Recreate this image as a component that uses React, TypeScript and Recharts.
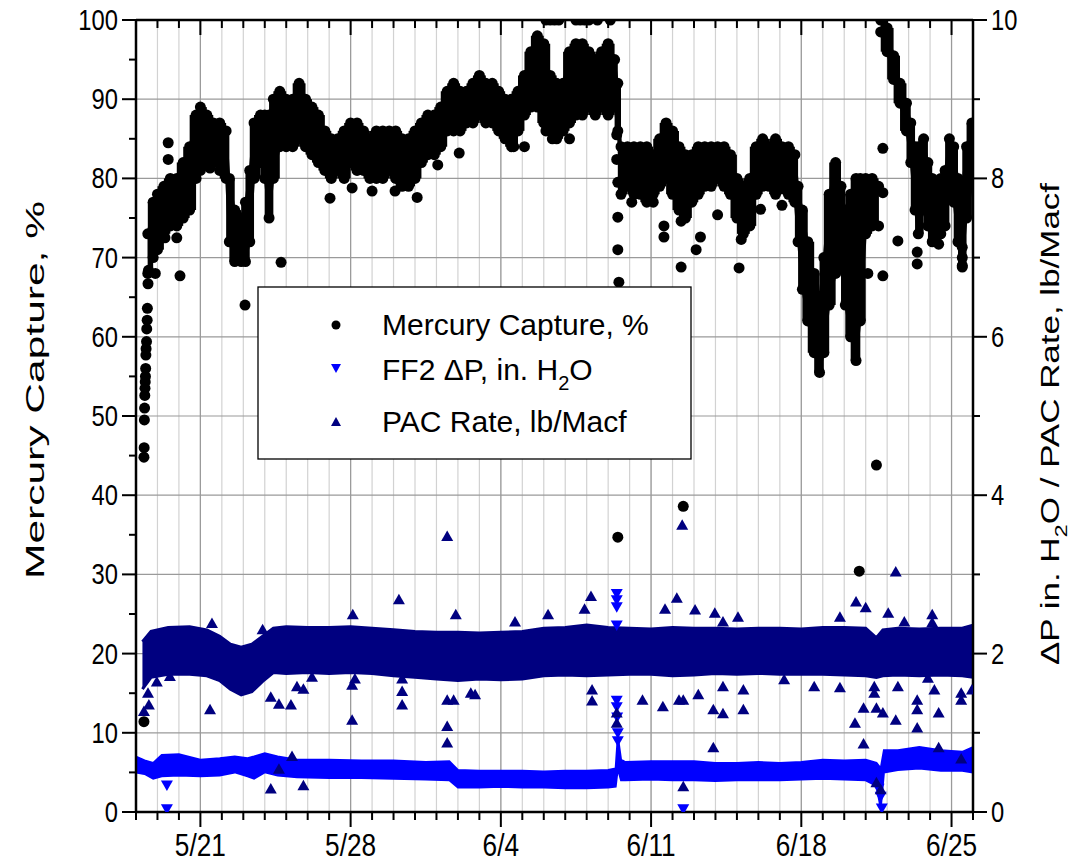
import { Area, CartesianGrid, ComposedChart, ReferenceArea, Scatter, XAxis, YAxis } from "recharts";

// time axis: days counted from 5/18
const dayTicks = Array.from({ length: 40 }, (_, i) => i);
const dateLabelDays = [3, 10, 17, 24, 31, 38];
const dateLabels = ["5/21", "5/28", "6/4", "6/11", "6/18", "6/25"];
const leftTicks = Array.from({ length: 21 }, (_, i) => i * 5);
const rightTicks = Array.from({ length: 11 }, (_, i) => i);

// mercury capture, dense band (lo / hi envelope of the dots)
const hgT = [0.55, 0.8, 1.0, 1.3, 1.6, 1.9, 2.2, 2.5, 2.8, 3.0, 3.3, 3.6, 3.9, 4.2, 4.35, 4.6, 4.9, 5.1, 5.3, 5.5, 5.8, 6.0, 6.2, 6.4, 6.7, 7.0, 7.3, 7.6, 7.9, 8.2, 8.5, 8.8, 9.1, 9.4, 9.7, 10.0, 10.3, 10.6, 10.9, 11.2, 11.5, 11.8, 12.1, 12.4, 12.7, 13.0, 13.3, 13.6, 13.9, 14.2, 14.5, 14.8, 15.1, 15.4, 15.7, 16.0, 16.3, 16.6, 16.9, 17.2, 17.5, 17.8, 18.1, 18.4, 18.7, 19.0, 19.3, 19.6, 19.9, 20.2, 20.5, 20.8, 21.1, 21.4, 21.7, 22.0, 22.3, 22.45, 22.6, 22.9, 23.2, 23.5, 23.8, 24.1, 24.4, 24.7, 25.0, 25.3, 25.6, 25.9, 26.2, 26.5, 26.8, 27.1, 27.4, 27.7, 28.0, 28.3, 28.6, 28.9, 29.2, 29.5, 29.8, 30.1, 30.4, 30.7, 30.85, 31.05, 31.3, 31.6, 31.85, 32.05, 32.3, 32.6, 32.85, 33.05, 33.3, 33.55, 33.75, 34.0, 34.3, 34.6];
const hgLo = [68, 70, 71, 73, 74, 74, 75, 76, 80, 81, 82, 82, 82, 80, 72, 69.5, 69.5, 69.5, 72, 80, 82, 80, 75, 80, 84, 84, 84, 85, 84, 83, 82, 81, 80, 81, 80, 82, 81, 81, 80, 80, 80, 81, 80, 79, 79, 80, 82, 83, 83, 84, 86, 86, 86, 87, 87, 88, 87, 87, 86, 85, 84, 86, 88, 89, 89, 87, 86, 85, 86, 87, 88, 88, 89, 88, 89, 88, 89, 86, 78, 79, 78, 78, 77, 78, 79, 80, 78, 76, 75, 77, 78, 79, 79, 80, 79, 78, 75, 73, 74, 78, 79, 79, 78, 79, 78, 77, 72, 66, 62, 58, 55.5, 58, 64, 68, 70, 64, 60, 57, 62, 73, 74, 74];
const hgHi = [73, 77, 78, 79, 80, 80, 82, 84, 88, 89, 88, 87, 87, 86, 80, 76, 75, 77, 81, 87, 88, 88, 88, 90, 91, 90, 90, 92, 90, 89, 88, 86, 85, 85, 86, 87, 87, 86, 85, 86, 86, 86, 86, 85, 85, 86, 87, 88, 88, 89, 91, 92, 91, 91, 92, 93, 92, 92, 91, 90, 90, 91, 93, 96, 98, 97, 93, 92, 92, 96, 97, 97, 96, 95, 96, 97, 95, 92, 84, 84, 84, 84, 84, 83, 85, 87, 86, 84, 83, 83, 84, 84, 84, 84, 84, 83, 80, 79, 80, 84, 85, 84, 85, 84, 84, 83, 79, 76, 72, 68, 65, 70, 78, 82, 79, 76, 78, 80, 80, 80, 80, 79];

// mercury capture after the jump on 6/21
const hg2T = [34.7, 35.0, 35.3, 35.6, 35.9, 36.1, 36.3, 36.45, 36.7, 36.9, 37.1, 37.3, 37.5, 37.7, 37.9, 38.1, 38.3, 38.5, 38.7, 38.95];
const hg2Lo = [98.5, 96, 92.5, 89.5, 86, 82, 76, 73, 76, 74, 72, 72, 73, 74, 78, 77, 72, 69, 75, 79];
const hg2Hi = [100, 99, 95.5, 92, 89.5, 87, 84, 84, 85, 82, 80, 79, 80, 81, 85, 84, 80, 79, 84, 87];

// single mercury points
const hgDotT = [0.37, 0.38, 0.39, 0.4, 0.41, 0.42, 0.43, 0.44, 0.45, 0.46, 0.47, 0.49, 0.5, 0.52, 0.53, 0.56, 0.58, 0.37, 1.5, 1.5, 0.9, 2.05, 1.35, 1.9, 6.76, 5.08, 9.04, 10.07, 11.0, 12.07, 13.1, 3.45, 3.9, 14.06, 15.06, 17.1, 17.6, 18.1, 19.1, 19.4, 20.2, 19.1, 19.3, 19.5, 19.7, 20.5, 20.7, 20.9, 21.1, 21.5, 22.1, 22.4, 22.4, 22.45, 22.45, 22.45, 22.5, 22.45, 23.1, 24.1, 25.4, 24.6, 24.6, 25.4, 26.1, 25.5, 27.1, 26.3, 28.1, 28.2, 29.1, 30.1, 34.1, 34.8, 34.8, 34.8, 35.5, 36.4, 36.4, 37.4, 38.5, 38.5, 38.5, 34.5, 33.7];
const hgDotV = [44.8, 46.0, 49.5, 51.0, 52.6, 53.5, 54.3, 55.0, 56.0, 57.7, 58.5, 59.4, 61.0, 62.1, 63.6, 66.7, 68.4, 11.4, 84.5, 82.4, 68.0, 67.7, 72.5, 72.5, 69.4, 64.0, 77.5, 78.8, 78.4, 78.4, 77.6, 81.3, 81.0, 81.7, 83.2, 86.0, 84.0, 84.0, 86.0, 85.0, 85.0, 100, 100, 100, 100, 100, 100, 100, 100, 100, 100, 85.5, 82.4, 79.5, 75.1, 71.0, 66.9, 34.7, 77.0, 77.0, 68.8, 72.6, 74.0, 74.6, 71.0, 38.6, 75.4, 72.6, 68.7, 72.3, 76.1, 76.6, 68.0, 67.7, 78.2, 83.8, 72.1, 70.7, 69.2, 71.7, 71.3, 70.0, 68.8, 43.8, 30.4];

// PAC rate band, lb/Macf
const pacT = [0.3, 0.7, 1.5, 2.5, 3.3, 3.9, 4.4, 4.9, 5.4, 5.9, 6.4, 7, 8, 9, 10, 11, 12, 13, 14, 15, 16, 17, 18, 19, 20, 21, 22, 23, 24, 25, 26, 27, 28, 29, 30, 31, 32, 33, 34, 34.5, 34.8, 35.5, 36.5, 37.5, 38.5, 39];
const pacLo = [1.55, 1.7, 1.74, 1.74, 1.72, 1.66, 1.55, 1.48, 1.52, 1.65, 1.76, 1.75, 1.76, 1.75, 1.76, 1.75, 1.72, 1.7, 1.68, 1.66, 1.68, 1.67, 1.68, 1.72, 1.73, 1.72, 1.73, 1.74, 1.74, 1.72, 1.73, 1.75, 1.74, 1.75, 1.74, 1.74, 1.74, 1.73, 1.72, 1.7, 1.72, 1.73, 1.72, 1.73, 1.72, 1.7];
const pacHi = [2.15, 2.28, 2.33, 2.34, 2.3, 2.22, 2.12, 2.08, 2.12, 2.22, 2.32, 2.34, 2.33, 2.33, 2.34, 2.32, 2.3, 2.28, 2.27, 2.27, 2.26, 2.27, 2.28, 2.32, 2.33, 2.36, 2.33, 2.32, 2.31, 2.33, 2.32, 2.32, 2.31, 2.32, 2.32, 2.31, 2.33, 2.33, 2.32, 2.2, 2.3, 2.32, 2.31, 2.32, 2.32, 2.36];

// single PAC points
const pacDotT = [0.37, 0.56, 0.6, 0.97, 1.58, 3.45, 3.54, 5.9, 6.28, 6.28, 6.66, 6.66, 7.27, 7.22, 7.5, 7.8, 7.8, 8.2, 10.07, 10.07, 10.2, 10.1, 12.25, 12.4, 12.4, 12.4, 14.5, 14.9, 14.5, 14.5, 14.5, 14.8, 15.6, 15.8, 17.66, 19.2, 20.9, 21.2, 21.25, 21.25, 22.4, 22.4, 23.6, 24.55, 24.65, 25.2, 25.45, 25.3, 25.5, 25.5, 26.05, 26.2, 26.97, 27.35, 28.05, 26.9, 27.35, 27.35, 28.3, 28.3, 26.9, 30.2, 31.6, 32.8, 32.8, 33.5, 33.55, 33.9, 33.9, 34.0, 34.4, 34.4, 34.5, 34.8, 34.5, 34.7, 35.05, 35.4, 35.4, 35.5, 35.8, 36.4, 36.4, 36.4, 36.9, 37.1, 37.1, 37.2, 37.4, 37.4, 38.45, 38.45, 38.45, 38.95];
const pacDotV = [1.27, 1.5, 1.35, 1.64, 1.71, 1.29, 2.38, 2.3, 1.45, 0.29, 1.36, 0.54, 0.7, 1.35, 1.58, 1.55, 0.33, 1.7, 1.16, 1.6, 1.68, 2.49, 2.68, 1.52, 1.35, 1.68, 3.48, 2.49, 1.08, 0.87, 1.41, 1.41, 1.5, 1.48, 2.4, 2.49, 2.56, 2.72, 1.54, 1.4, 1.25, 1.12, 1.41, 1.33, 2.56, 2.7, 3.62, 1.41, 1.41, 0.32, 2.55, 1.48, 2.51, 2.4, 2.46, 1.29, 1.58, 1.24, 1.54, 1.29, 0.81, 1.67, 1.58, 1.57, 2.46, 1.12, 2.65, 1.31, 0.86, 2.58, 1.58, 1.5, 1.31, 1.25, 0.37, 0.28, 2.51, 3.03, 1.16, 1.58, 2.4, 1.41, 1.29, 1.06, 1.69, 2.49, 2.39, 1.54, 1.25, 0.81, 1.41, 1.5, 0.67, 1.54];

// FF2 pressure drop band, in. H2O
const dpT = [0, 0.4, 0.8, 1.2, 2.0, 3.0, 3.9, 4.6, 5.2, 5.5, 6.0, 6.6, 7.5, 9, 10.5, 12, 13.5, 14.6, 15, 16, 17, 18, 19, 20, 21, 22, 22.35, 22.45, 22.6, 22.8, 24, 25, 26, 27, 28, 29, 30, 31, 32, 33, 34, 34.5, 34.7, 34.85, 35.5, 36.5, 37.5, 38.5, 39];
const dpLo = [0.5, 0.48, 0.42, 0.45, 0.46, 0.45, 0.46, 0.5, 0.45, 0.42, 0.5, 0.46, 0.44, 0.43, 0.43, 0.42, 0.41, 0.4, 0.31, 0.31, 0.32, 0.31, 0.31, 0.3, 0.3, 0.31, 0.32, 0.55, 0.4, 0.4, 0.41, 0.4, 0.4, 0.39, 0.4, 0.4, 0.4, 0.41, 0.42, 0.41, 0.4, 0.33, 0.05, 0.5, 0.53, 0.55, 0.52, 0.52, 0.5];
const dpHi = [0.7, 0.65, 0.62, 0.72, 0.73, 0.66, 0.68, 0.7, 0.68, 0.7, 0.74, 0.7, 0.66, 0.66, 0.65, 0.65, 0.63, 0.64, 0.53, 0.52, 0.52, 0.52, 0.51, 0.52, 0.52, 0.53, 0.55, 0.95, 0.66, 0.63, 0.64, 0.64, 0.64, 0.62, 0.62, 0.63, 0.62, 0.63, 0.66, 0.65, 0.66, 0.62, 0.55, 0.78, 0.78, 0.82, 0.78, 0.76, 0.82];

// single pressure drop points
const dpDotT = [1.44, 1.44, 22.4, 22.4, 22.4, 22.4, 22.4, 22.4, 22.42, 22.45, 22.45, 25.5, 34.6, 34.7, 34.75];
const dpDotV = [0.34, 0.04, 2.76, 2.68, 2.59, 2.36, 1.41, 1.33, 1.2, 1.0, 0.9, 0.04, 0.3, 0.2, 0.05];

const band = (t: number[], lo: number[], hi: number[]) =>
  t.map((x, i) => ({ t: x, range: [lo[i], hi[i]] }));
const dots = (t: number[], v: number[]) => t.map((x, i) => ({ t: x, v: v[i] }));
// one column per sample of the dense mercury band, overlapping its neighbours
const columns = (t: number[], lo: number[], hi: number[]) =>
  t.map((x, i) => ({
    x1: i === 0 ? x : t[i - 1],
    x2: i === t.length - 1 ? x : t[i + 1],
    y1: lo[i],
    y2: hi[i],
  }));

const hgBand = band(hgT, hgLo, hgHi);
const hgBand2 = band(hg2T, hg2Lo, hg2Hi);
const hgColumns = [...columns(hgT, hgLo, hgHi), ...columns(hg2T, hg2Lo, hg2Hi)];
const pacBand = band(pacT, pacLo, pacHi);
const dpBand = band(dpT, dpLo, dpHi);
const hgDots = dots(hgDotT, hgDotV);
const hgEdges = [...dots(hgT, hgLo), ...dots(hgT, hgHi), ...dots(hg2T, hg2Lo), ...dots(hg2T, hg2Hi)];
const pacDots = dots(pacDotT, pacDotV);
const dpDots = dots(dpDotT, dpDotV);

const NAVY = "#000080";
const BLUE = "#0000ff";
const SANS = "'Liberation Sans', Arial, sans-serif";

const NarrowText = ({ x, y, anchor, size, children }: any) => (
  <text
    transform={`translate(${x} ${y}) scale(0.82 1)`}
    textAnchor={anchor}
    fontSize={size}
    fontFamily={SANS}
    fill="#000"
  >
    {children}
  </text>
);

const BottomTick = ({ x, y, payload }: any) => {
  const i = dateLabelDays.indexOf(payload.value);
  return (
    <g>
      <line x1={x} x2={x} y1={y} y2={y + (i >= 0 ? 15 : 8)} stroke="#000" strokeWidth={2} />
      {i >= 0 && (
        <NarrowText x={x} y={y + 44} anchor="middle" size={32}>
          {dateLabels[i]}
        </NarrowText>
      )}
    </g>
  );
};

const TopTick = ({ x, y, payload }: any) => {
  const major = dateLabelDays.includes(payload.value);
  return <line x1={x} x2={x} y1={y} y2={y + (major ? 15 : 8)} stroke="#000" strokeWidth={2} />;
};

const LeftTick = ({ x, y, payload }: any) => {
  const major = payload.value % 10 === 0;
  return (
    <g>
      <line x1={x - (major ? 14 : 7)} x2={x} y1={y} y2={y} stroke="#000" strokeWidth={2} />
      {major && (
        <NarrowText x={x - 18} y={y + 10} anchor="end" size={29}>
          {payload.value}
        </NarrowText>
      )}
    </g>
  );
};

const RightTick = ({ x, y, payload }: any) => {
  const major = payload.value % 2 === 0;
  return (
    <g>
      <line x1={x} x2={x + (major ? 14 : 7)} y1={y} y2={y} stroke="#000" strokeWidth={2} />
      {major && (
        <NarrowText x={x + 18} y={y + 10} anchor="start" size={29}>
          {payload.value}
        </NarrowText>
      )}
    </g>
  );
};

const HgDot = (p: any) => <circle cx={p.cx} cy={p.cy} r={5.5} fill="#000" />;
const UpTri = (p: any) => (
  <polygon points={`${p.cx},${p.cy - 6} ${p.cx - 6},${p.cy + 4.5} ${p.cx + 6},${p.cy + 4.5}`} fill={NAVY} />
);
const DownTri = (p: any) => (
  <polygon points={`${p.cx},${p.cy + 6} ${p.cx - 6},${p.cy - 4.5} ${p.cx + 6},${p.cy - 4.5}`} fill={BLUE} />
);

const axisLine = { stroke: "#000", strokeWidth: 2.5 };

export default function App() {
  return (
    <div style={{ position: "absolute", left: 0, top: 0, width: 1077, height: 862, background: "#fff" }}>
      <ComposedChart width={1077} height={862} margin={{ top: 0, right: 0, bottom: 0, left: 0 }}>
        <XAxis xAxisId="b" dataKey="t" type="number" domain={[0, 39]} allowDataOverflow ticks={dayTicks} interval={0} height={50} tickSize={0} tickMargin={0} tickLine={false} axisLine={axisLine} tick={BottomTick} />
        <XAxis xAxisId="top" orientation="top" dataKey="t" type="number" domain={[0, 39]} allowDataOverflow ticks={dayTicks} interval={0} height={20} tickSize={0} tickMargin={0} tickLine={false} axisLine={axisLine} tick={TopTick} />
        <YAxis yAxisId="l" dataKey="v" domain={[0, 100]} allowDataOverflow ticks={leftTicks} interval={0} width={136} tickSize={0} tickMargin={0} tickLine={false} axisLine={axisLine} tick={LeftTick} />
        <YAxis yAxisId="r" orientation="right" dataKey="v" domain={[0, 10]} allowDataOverflow ticks={rightTicks} interval={0} width={104} tickSize={0} tickMargin={0} tickLine={false} axisLine={axisLine} tick={RightTick} />

        {/* daily grid, then the weekly and every-10 % grid */}
        <CartesianGrid
          xAxisId="b"
          yAxisId="r"
          horizontal={false}
          verticalValues={dayTicks.slice(1, -1)}
          stroke="#d2d2d2"
          strokeWidth={1.2}
        />
        <CartesianGrid
          xAxisId="b"
          yAxisId="r"
          verticalValues={dateLabelDays}
          horizontalValues={rightTicks.slice(1, -1)}
          stroke="#9a9a9a"
          strokeWidth={1.2}
        />

        {hgColumns.map((c, i) => (
          <ReferenceArea key={"hg" + i} xAxisId="b" yAxisId="l" x1={c.x1} x2={c.x2} y1={c.y1} y2={c.y2} fill="#000" fillOpacity={1} stroke="none" />
        ))}
        <Area name="hgBand" data={hgBand} xAxisId="b" yAxisId="l" dataKey="range" type="linear" stroke="#000" strokeWidth={2} fill="#000" fillOpacity={1} dot={false} activeDot={false} isAnimationActive={false} />
        <Area name="hgBand2" data={hgBand2} xAxisId="b" yAxisId="l" dataKey="range" type="linear" stroke="#000" strokeWidth={2} fill="#000" fillOpacity={1} dot={false} activeDot={false} isAnimationActive={false} />
        <Scatter name="hgEdges" data={hgEdges} xAxisId="b" yAxisId="l" dataKey="v" shape={HgDot} isAnimationActive={false} />
        <Scatter name="hgDots" data={hgDots} xAxisId="b" yAxisId="l" dataKey="v" shape={HgDot} isAnimationActive={false} />

        <Area name="dpBand" data={dpBand} xAxisId="b" yAxisId="r" dataKey="range" type="linear" stroke={BLUE} strokeWidth={2} fill={BLUE} fillOpacity={1} dot={false} activeDot={false} isAnimationActive={false} />
        <Scatter name="dpDots" data={dpDots} xAxisId="b" yAxisId="r" dataKey="v" shape={DownTri} isAnimationActive={false} />

        <Area name="pacBand" data={pacBand} xAxisId="b" yAxisId="r" dataKey="range" type="linear" stroke={NAVY} strokeWidth={3} fill={NAVY} fillOpacity={1} dot={false} activeDot={false} isAnimationActive={false} />
        <Scatter name="pacDots" data={pacDots} xAxisId="b" yAxisId="r" dataKey="v" shape={UpTri} isAnimationActive={false} />
      </ComposedChart>

      <svg width={1077} height={862} style={{ position: "absolute", left: 0, top: 0, pointerEvents: "none" }}>
        <text transform="translate(44 390) rotate(-90)" textAnchor="middle" fontSize={25} fontFamily={SANS} textLength={378} lengthAdjust="spacingAndGlyphs" fill="#000">
          Mercury Capture, %
        </text>
        <text transform="translate(1059 424) rotate(-90)" textAnchor="middle" fontSize={25} fontFamily={SANS} textLength={482} lengthAdjust="spacingAndGlyphs" fill="#000">
          ΔP in. H<tspan dy={8} fontSize={17}>2</tspan>
          <tspan dy={-8}>O / PAC Rate, lb/Macf</tspan>
        </text>

        <rect x={258} y={287} width={433} height={172} fill="#fff" stroke="#000" strokeWidth={1.3} />
        <circle cx={336} cy={325} r={4.5} fill="#000" />
        <text x={382} y={335} fontSize={30} fontFamily={SANS} fill="#000">
          Mercury Capture, %
        </text>
        <polygon points="336,373 331,364 341,364" fill={BLUE} />
        <text x={382} y={380} fontSize={30} fontFamily={SANS} fill="#000">
          FF2 ΔP, in. H<tspan dy={10} fontSize={20}>2</tspan>
          <tspan dy={-10}>O</tspan>
        </text>
        <polygon points="336,417 331,426 341,426" fill={NAVY} />
        <text x={382} y={432} fontSize={30} fontFamily={SANS} fill="#000">
          PAC Rate, lb/Macf
        </text>
      </svg>
    </div>
  );
}
